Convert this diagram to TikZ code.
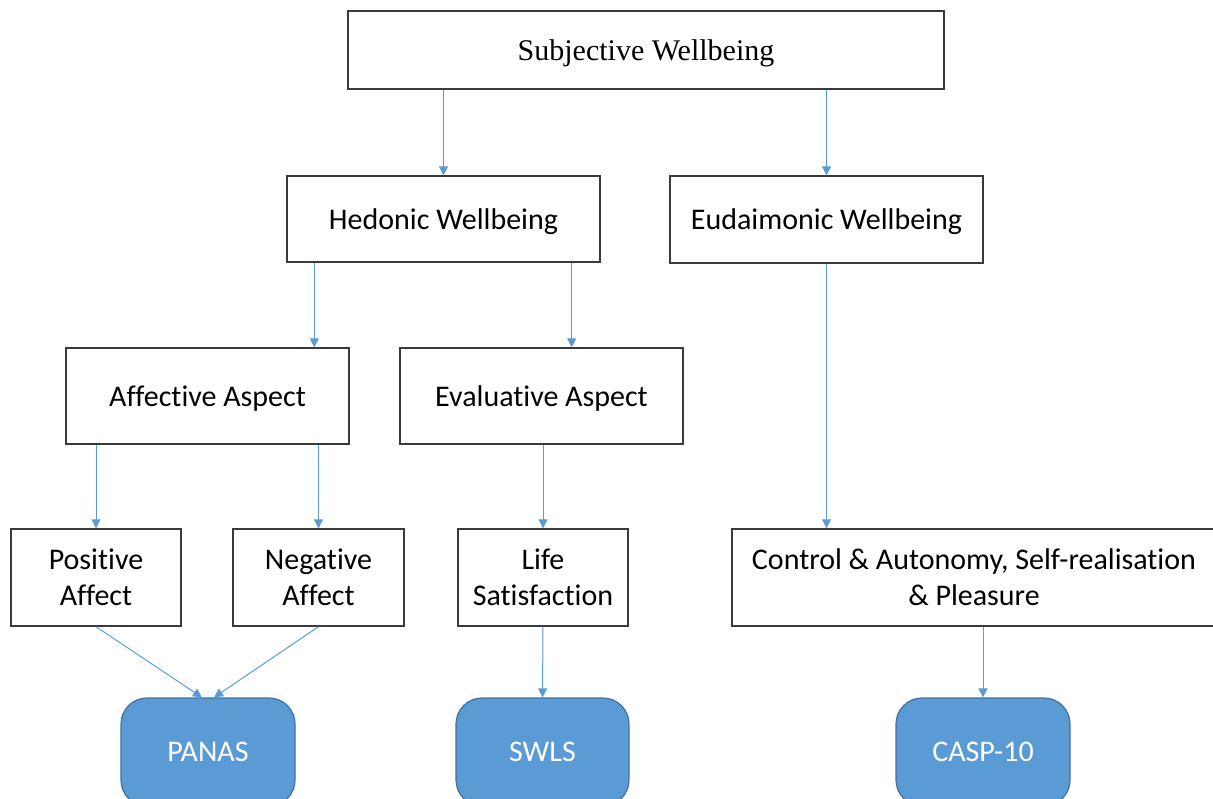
\documentclass[tikz,border=0pt]{standalone}
\usepackage{fontspec}
\setmainfont{Liberation Serif}
\newfontfamily\calib[Ligatures=NoCommon]{Carlito}
\usetikzlibrary{arrows.meta}
\definecolor{arrblue}{HTML}{5B9BD5}
\definecolor{boxline}{HTML}{3A3A3A}
\definecolor{panfill}{HTML}{5B9BD5}
\definecolor{panline}{HTML}{41719C}
\tikzset{
  box/.style={draw=boxline, line width=1.4pt, fill=white, align=center, inner sep=0pt,
    font=\calib\fontsize{30}{36}\selectfont},
  oneline/.style={text height=27pt, text depth=7pt},
  topbox/.style={box, oneline, font=\fontsize{30}{36}\selectfont},
  measure/.style={draw=panline, line width=1.2pt, fill=panfill, rounded corners=26pt,
    text=white, align=center, inner sep=0pt, font=\calib\fontsize{30}{36}\selectfont},
  arr/.style={draw=arrblue, line width=1pt, -{Triangle[width=9pt,length=9pt]}}
}
\begin{document}
\begin{tikzpicture}[x=1pt,y=1pt]
\useasboundingbox (0,0) rectangle (1213,-798);
\clip (0,0) rectangle (1213,-798);
% boxes
\node[topbox, minimum width=596pt, minimum height=78pt] (top) at (646,-50) {Subjective Wellbeing};
\node[box, oneline, minimum width=313pt, minimum height=86pt] (hed) at (443.5,-219) {Hedonic Wellbeing};
\node[box, oneline, minimum width=313pt, minimum height=87pt] (eud) at (826.5,-219.5) {Eudaimonic Wellbeing};
\node[box, oneline, minimum width=283pt, minimum height=96pt] (aff) at (207.5,-396) {Affective Aspect};
\node[box, oneline, minimum width=283pt, minimum height=96pt] (eva) at (541.5,-396) {Evaluative Aspect};
\node[box, minimum width=170pt, minimum height=97pt] (pos) at (96,-577.5) {Positive\\Affect};
\node[box, minimum width=171pt, minimum height=97pt] (neg) at (318.5,-577.5) {Negative\\Affect};
\node[box, minimum width=170pt, minimum height=97pt] (life) at (543,-577.5) {Life\\Satisfaction};
\node[box, minimum width=484pt, minimum height=97pt] (ctrl) at (974,-577.5) {Control \& Autonomy, Self-realisation\\\& Pleasure};
\node[measure, minimum width=174pt, minimum height=108pt] (panas) at (208,-752) {PANAS};
\node[measure, minimum width=173pt, minimum height=108pt] (swls) at (542.5,-752) {SWLS};
\node[measure, minimum width=174pt, minimum height=108pt] (casp) at (983,-752) {CASP-10};
% helper coordinates
\coordinate (h1) at ([xshift=28pt]hed.south west);
\coordinate (h2) at ([xshift=-29pt]hed.south east);
\coordinate (p1) at ([xshift=-6pt]panas.north);
\coordinate (p2) at ([xshift=6pt]panas.north);
% connectors
\draw[arr] (hed.north |- top.south) -- (hed.north);
\draw[arr] (eud.north |- top.south) -- (eud.north);
\draw[arr] (h1) -- (h1 |- aff.north);
\draw[arr] (h2) -- (h2 |- eva.north);
\draw[arr] (pos.north |- aff.south) -- (pos.north);
\draw[arr] (neg.north |- aff.south) -- (neg.north);
\draw[arr] (life.north |- eva.south) -- (life.north);
\draw[arr] (eud.south) -- (eud.south |- ctrl.north);
\draw[arr] (pos.south) -- (p1);
\draw[arr] (neg.south) -- (p2);
\draw[arr] (life.south) -- (swls.north);
\draw[arr] (casp.north |- ctrl.south) -- (casp.north);
\end{tikzpicture}
\end{document}
